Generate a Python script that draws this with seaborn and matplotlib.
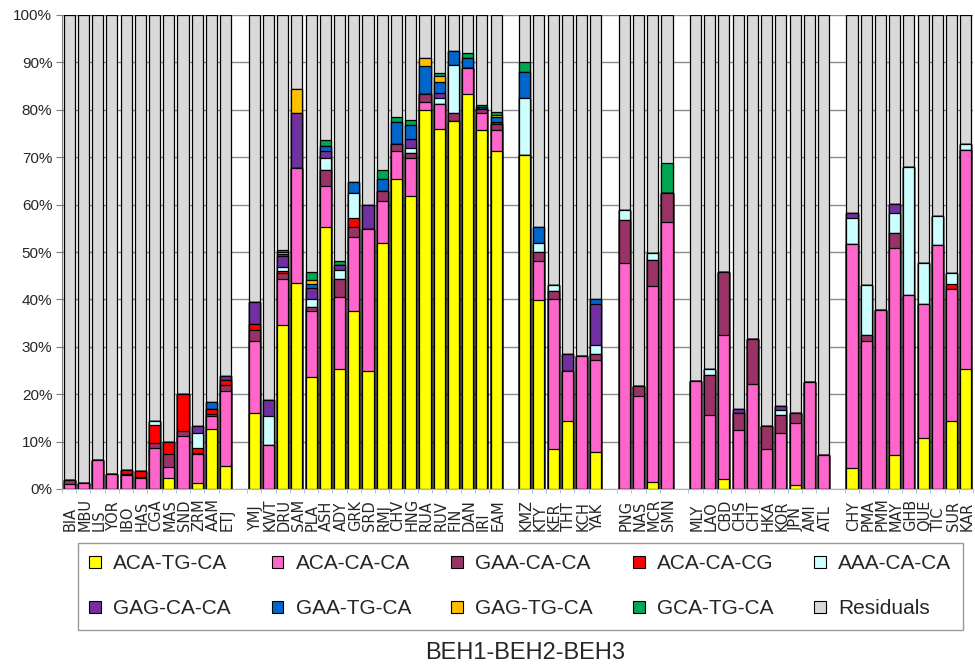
import pandas as pd
import seaborn as sns
import matplotlib.pyplot as plt
from matplotlib.patches import Patch
from matplotlib.ticker import FixedLocator

# population groups (a blank slot is left between groups)
groups = [
    ['BIA', 'MBU', 'LIS', 'YOR', 'IBO', 'HAS', 'CGA', 'MAS', 'SND', 'ZRM', 'AAM', 'ETJ'],
    ['YMJ', 'KWT', 'DRU', 'SAM', 'PLA', 'ASH', 'ADY', 'GRK', 'SRD', 'RMJ', 'CHV', 'HNG',
     'RUA', 'RUV', 'FIN', 'DAN', 'IRI', 'EAM'],
    ['KMZ', 'KTY', 'KER', 'THT', 'KCH', 'YAK'],
    ['PNG', 'NAS', 'MCR', 'SMN'],
    ['MLY', 'LAO', 'CBD', 'CHS', 'CHT', 'HKA', 'KOR', 'JPN', 'AMI', 'ATL'],
    ['CHY', 'PMA', 'PMM', 'MAY', 'GHB', 'QUE', 'TIC', 'SUR', 'KAR'],
]

# percentages per haplotype, same order as the populations above
aca_tg_ca = [0, 0, 0, 0, 0, 0, 0, 2.4, 0, 1.3, 12.6, 4.8,
             16.0, 0, 34.5, 43.5, 23.6, 55.3, 25.3, 37.5, 24.9, 52.0, 65.5, 61.8, 80.0, 76.0, 77.7, 83.3, 75.8, 71.4,
             70.5, 39.8, 8.4, 14.4, 0, 7.9,
             0, 0, 1.5, 0,
             0, 0, 2.2, 0, 0, 0, 0, 0.9, 0, 0,
             4.5, 0, 0, 7.1, 0, 10.8, 0, 14.4, 25.3]
aca_ca_ca = [1.1, 1.2, 6.2, 3.2, 2.9, 2.4, 8.6, 2.2, 11.1, 6.0, 2.8, 15.9,
             15.3, 9.2, 9.9, 24.3, 13.9, 8.7, 15.2, 15.6, 30.0, 8.7, 5.8, 8.0, 1.6, 5.2, 0, 5.6, 3.5, 4.4,
             0, 8.2, 31.6, 10.5, 28.0, 19.4,
             47.6, 19.6, 41.3, 56.4,
             22.7, 15.6, 30.2, 12.4, 22.2, 8.4, 11.9, 13.1, 22.5, 7.1,
             47.1, 31.3, 37.8, 43.8, 40.9, 28.3, 51.5, 27.8, 46.3]
gaa_ca_ca = [0.9, 0, 0, 0, 0.2, 0.2, 1.0, 2.8, 1.2, 0.2, 0.5, 1.2,
             2.2, 0, 1.1, 0, 0.8, 3.3, 3.9, 2.2, 0, 2.2, 1.4, 1.1, 1.8, 0, 1.6, 0, 0.8, 1.1,
             0, 2.0, 1.8, 0, 0, 1.1,
             9.1, 2.1, 5.6, 6.1,
             0, 8.5, 13.4, 3.6, 9.4, 4.9, 3.7, 2.0, 0, 0,
             0, 1.1, 0, 3.1, 0, 0, 0, 0, 0]
aca_ca_cg = [0, 0, 0, 0, 1.0, 1.1, 3.8, 2.5, 7.7, 1.1, 1.0, 1.2,
             1.3, 0, 0.5, 0, 0, 0, 0, 1.8, 0, 0, 0, 0, 0, 0, 0, 0, 0, 0,
             0, 0, 0, 0, 0, 0,
             0, 0, 0, 0,
             0, 0, 0, 0, 0, 0, 0, 0, 0, 0,
             0, 0, 0, 0, 0, 0, 0, 1.1, 0]
aaa_ca_ca = [0, 0, 0, 0, 0, 0, 1.0, 0, 0, 3.2, 0, 0,
             0, 6.1, 0.9, 0, 1.8, 2.5, 1.8, 5.4, 0, 0, 0, 1.1, 0, 1.3, 10.2, 0, 0, 0,
             11.9, 1.9, 1.3, 0, 0, 1.9,
             2.2, 0, 1.4, 0,
             0, 1.2, 0, 0, 0, 0, 1.0, 0, 0, 0,
             5.5, 10.7, 0, 4.2, 27.1, 8.5, 6.1, 2.2, 1.1]
gag_ca_ca = [0, 0, 0, 0, 0, 0, 0, 0, 0, 1.4, 0, 0.8,
             4.7, 3.4, 2.2, 11.6, 2.2, 1.5, 1.1, 0, 5.1, 0, 0, 1.8, 0, 1.1, 0, 0, 0, 0.5,
             0, 0, 0, 3.6, 0, 8.8,
             0, 0, 0, 0,
             0, 0, 0, 0.9, 0, 0, 0.9, 0, 0, 0,
             1.1, 0, 0, 2.0, 0, 0, 0, 0, 0]
gaa_tg_ca = [0, 0, 0, 0, 0, 0, 0, 0, 0, 0, 1.5, 0,
             0, 0, 0.5, 0, 1.0, 1.1, 0, 2.2, 0, 2.4, 4.8, 2.9, 5.8, 2.3, 3.0, 2.1, 0.5, 1.1,
             5.6, 3.3, 0, 0, 0, 1.0,
             0, 0, 0, 0,
             0, 0, 0, 0, 0, 0, 0, 0, 0, 0,
             0, 0, 0, 0, 0, 0, 0, 0, 0]
gag_tg_ca = [0, 0, 0, 0, 0, 0, 0, 0, 0, 0, 0, 0,
             0, 0, 0.5, 5.0, 0.7, 0, 0, 0, 0, 0, 0, 0, 1.7, 1.2, 0, 0, 0, 0.4,
             0, 0, 0, 0, 0, 0,
             0, 0, 0, 0,
             0, 0, 0, 0, 0, 0, 0, 0, 0, 0,
             0, 0, 0, 0, 0, 0, 0, 0, 0]
gca_tg_ca = [0, 0, 0, 0, 0, 0, 0, 0, 0, 0, 0, 0,
             0, 0, 0.3, 0, 1.8, 1.2, 0.8, 0, 0, 2.1, 1.0, 1.1, 0, 0.7, 0, 1.0, 0.5, 0.6,
             2.0, 0, 0, 0, 0, 0,
             0, 0, 0, 6.2,
             0, 0, 0, 0, 0, 0, 0, 0, 0, 0,
             0, 0, 0, 0, 0, 0, 0, 0, 0]

series_names = ['ACA-TG-CA', 'ACA-CA-CA', 'GAA-CA-CA', 'ACA-CA-CG', 'AAA-CA-CA',
                'GAG-CA-CA', 'GAA-TG-CA', 'GAG-TG-CA', 'GCA-TG-CA', 'Residuals']
colors = ['#FFFF00', '#FF66CC', '#993366', '#FF0000', '#CCFFFF',
          '#7030A0', '#0066CC', '#FFC000', '#00A651', '#D9D9D9']

# x positions with one empty slot between groups
labels, pos = [], []
p = 0
for g in groups:
    for name in g:
        labels.append(name)
        pos.append(p)
        p += 1
    p += 1
n_slots = p - 1

df = pd.DataFrame({'pop': labels, 'pos': pos})
vals = [aca_tg_ca, aca_ca_ca, gaa_ca_ca, aca_ca_cg, aaa_ca_ca,
        gag_ca_ca, gaa_tg_ca, gag_tg_ca, gca_tg_ca]
for name, v in zip(series_names[:-1], vals):
    df[name] = v
df['Residuals'] = 100 - df[series_names[:-1]].sum(axis=1)

cum = df[series_names].cumsum(axis=1)

sns.set_style('white')
plt.rcParams['font.family'] = ['Liberation Sans', 'DejaVu Sans']

fig = plt.figure(figsize=(9.75, 6.65), dpi=100)
ax = fig.add_axes([62 / 975, 1 - 489 / 665, 911 / 975, 474 / 665])

# stacked bars: draw cumulative totals from the top layer down
for name, c in zip(series_names[::-1], colors[::-1]):
    d = pd.DataFrame({'pos': df['pos'], 'h': cum[name]})
    sns.barplot(data=d, x='pos', y='h', native_scale=True, color=c, saturation=1,
                edgecolor='black', linewidth=0.9, width=0.78,
                errorbar=None, ax=ax, zorder=2)

ax.set_xlim(-0.5, n_slots - 0.5)
ax.set_ylim(0, 100)
ax.set_yticks(range(0, 101, 10))
ax.set_yticklabels([f'{t}%' for t in range(0, 101, 10)], fontsize=11)
ax.set_xticks(pos)
# labels start at a common bottom line and run upwards
ax.set_xticklabels(labels, rotation=90, fontsize=10.5, family='DejaVu Sans',
                   rotation_mode='anchor', ha='left', va='center_baseline')
ax.xaxis.set_minor_locator(FixedLocator([x - 0.5 for x in pos] + [pos[-1] + 0.5]))
ax.tick_params(axis='x', which='major', length=0, pad=30)
ax.tick_params(axis='x', which='minor', length=3, color='#9DB9D9', bottom=True)
ax.tick_params(axis='y', length=4, color='#808080', left=True, pad=3)
ax.set_xlabel('')
ax.set_ylabel('')
ax.set_axisbelow(True)
ax.yaxis.grid(True, color='#8C8C8C', linewidth=1)
for s in ['top', 'right']:
    ax.spines[s].set_visible(False)
ax.spines['left'].set_color('#808080')
ax.spines['bottom'].set_color('#9DB9D9')

# legend filled row by row, 5 entries per row
order = [0, 5, 1, 6, 2, 7, 3, 8, 4, 9]
handles = [Patch(facecolor=colors[i], edgecolor='black', linewidth=0.8) for i in order]
fig.legend(handles, [series_names[i] for i in order], loc='upper left', ncol=5, mode='expand',
           bbox_to_anchor=(78 / 975, 1 - 543 / 665, 885 / 975, 0),
           fontsize=15, frameon=True, fancybox=False, edgecolor='#808080',
           handlelength=0.55, handleheight=0.55, handletextpad=0.6,
           labelspacing=1.25, borderpad=0.55, borderaxespad=0)

fig.text(525 / 975, 1 - 653 / 665, 'BEH1-BEH2-BEH3', ha='center', va='center', fontsize=17)

plt.savefig('out.png', dpi=100)
